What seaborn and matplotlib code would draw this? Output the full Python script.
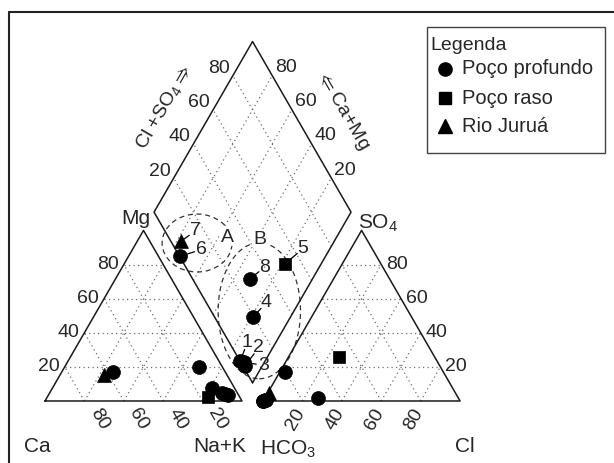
import numpy as np
import pandas as pd
import matplotlib
matplotlib.use("Agg")
import matplotlib.pyplot as plt
import seaborn as sns
from matplotlib.lines import Line2D
from matplotlib.patches import Ellipse, Rectangle

# ---------------- data (percent meq/L) ----------------
amostras = ["1", "2", "3", "4", "5", "6", "7", "8"]
tipo = ["Poço profundo", "Poço profundo", "Poço profundo", "Poço profundo",
        "Poço raso", "Poço profundo", "Rio Juruá", "Poço profundo"]
Ca = [7.8, 5.4, 6.5, 11.4, 16.1, 57.0, 62.5, 11.8]
Mg = [4.7, 3.5, 4.0, 7.6, 2.3, 17.0, 15.2, 20.0]
NaK = [87.5, 91.1, 89.5, 81.0, 81.6, 26.0, 22.3, 68.2]
HCO3 = [100.0, 99.0, 98.5, 80.4, 48.6, 100.0, 94.6, 71.0]
SO4 = [0.0, 0.5, 0.5, 17.0, 25.8, 0.0, 4.7, 2.0]
Cl = [0.0, 0.5, 1.0, 2.6, 25.6, 0.0, 0.7, 27.0]
ticks = [20, 40, 60, 80]
grupos = ["Poço profundo", "Poço raso", "Rio Juruá"]

# ---------------- geometry ----------------
H = np.sqrt(3) / 2
G = 0.107
BX, BY = 1 + G / 2, G * H
PX = 197.0  # pixels per data unit


def cat_xy(ca, mg, nak):
    mg = np.asarray(mg) / 100.0
    nak = np.asarray(nak) / 100.0
    return nak + mg / 2, mg * H


def an_xy(hco3, so4, cl):
    so4 = np.asarray(so4) / 100.0
    cl = np.asarray(cl) / 100.0
    return 1 + G + cl + so4 / 2, so4 * H


def dia_xy(camg, clso4):
    c = np.asarray(camg) / 100.0
    a = np.asarray(clso4) / 100.0
    return BX + 0.5 * (a - c), BY + H * (a + c)


sns.set_style("white")
plt.rcParams["font.family"] = ["Liberation Sans", "DejaVu Sans"]
plt.rcParams["mathtext.default"] = "regular"
FS = 14

fig = plt.figure(figsize=(6.14, 4.63), dpi=100)
ax = fig.add_axes([0, 0, 1, 1])

edge = dict(color="#1a1a1a", lw=1.1, zorder=3)
grid = dict(color="#6f6f6f", lw=0.9, ls=(0, (1, 2.6)), zorder=1)

# triangles outlines
for x0 in [0, 1 + G]:
    ax.plot([x0, x0 + 1, x0 + 0.5, x0], [0, 0, H, 0], **edge)
# diamond outline
ax.plot([BX, BX - 0.5, BX, BX + 0.5, BX], [BY, BY + H, BY + 2 * H, BY + H, BY], **edge)

# grids
for t in ticks:
    v = t / 100.0
    for x0 in [0, 1 + G]:
        ax.plot([x0 + v / 2, x0 + 1 - v / 2], [v * H, v * H], **grid)
        ax.plot([x0 + 1 - v, x0 + (1 - v) / 2], [0, (1 - v) * H], **grid)
        ax.plot([x0 + v, x0 + v + (1 - v) / 2], [0, (1 - v) * H], **grid)
    xa, ya = dia_xy([0, 100], [t, t])
    ax.plot(xa, ya, **grid)
    xc, yc = dia_xy([t, t], [0, 100])
    ax.plot(xc, yc, **grid)


def lab(x, y, s, dx, dy, fs=FS, **kw):
    ax.annotate(s, (x, y), xytext=(dx, dy), textcoords="offset pixels",
                fontsize=fs, **kw)


# tick labels
for t in ticks:
    x, y = cat_xy(100 - t, t, 0)
    lab(x, y, str(t), -5, 0, ha="right", va="center")
    x, y = cat_xy(t, 0, 100 - t)
    lab(x, y, str(t), 15, -18, ha="center", va="center", rotation=-60)
    x, y = an_xy(100 - t, t, 0)
    x = x + (1 - t / 100.0)
    lab(x, y, str(t), 5, 0, ha="left", va="center")
    x, y = an_xy(100 - t, 0, t)
    lab(x, y, str(t), -7, -18, ha="center", va="center", rotation=60)
    x, y = dia_xy(100, t)
    lab(x, y, str(t), -3, 7, ha="right", va="center")
    x, y = dia_xy(t, 100)
    lab(x, y, str(t), 3, 8, ha="left", va="center")

# corner labels
lab(0, 0, "Ca", -8, -46, fs=15, ha="center", va="center")
lab(1, 0, "Na+K", -22, -46, fs=15, ha="center", va="center")
lab(1 + G, 0, "HCO$_3$", 25, -48, fs=15, ha="center", va="center")
lab(2 + G, 0, "Cl", 5, -46, fs=15, ha="center", va="center")
lab(0.5, H, "Mg", -8, 12, fs=15, ha="center", va="center")
lab(1.5 + G, H, "SO$_4$", 16, 7, fs=15, ha="center", va="center")
ax.text(0.602, 1.492, r"Cl +SO$_4\Rightarrow$", fontsize=FS, rotation=60,
        ha="center", va="center", rotation_mode="anchor")
ax.text(1.513, 1.477, r"$\Leftarrow$Ca+Mg", fontsize=FS, rotation=-60,
        ha="center", va="center", rotation_mode="anchor")

# groups A, B
ax.add_patch(Ellipse((0.772, 0.802), 0.355, 0.294, fill=False,
                     ls=(0, (4, 3)), lw=0.9, color="#333333", zorder=2))
ax.add_patch(Ellipse((1.088, 0.458), 0.418, 0.690, fill=False,
                     ls=(0, (4, 3)), lw=0.9, color="#333333", zorder=2))
ax.text((227 - 45) / PX, (401 - 237) / PX, "A", fontsize=FS, ha="center", va="center",
        bbox=dict(fc="white", ec="none", pad=0.5), zorder=4)
ax.text((260 - 45) / PX, (401 - 239) / PX, "B", fontsize=FS, ha="center", va="center",
        bbox=dict(fc="white", ec="none", pad=0.5), zorder=4)

# points
cx, cy = cat_xy(Ca, Mg, NaK)
axx, ayy = an_xy(HCO3, SO4, Cl)
dx_, dy_ = dia_xy(np.add(Ca, Mg), np.add(SO4, Cl))
df = pd.DataFrame({
    "x": np.concatenate([cx, axx, dx_]),
    "y": np.concatenate([cy, ayy, dy_]),
    "tipo": tipo * 3,
})
markers = {"Poço profundo": "o", "Poço raso": "s", "Rio Juruá": "^"}
sizes = {"Poço profundo": 100, "Poço raso": 82, "Rio Juruá": 100}
for g_ in grupos:
    sub = df[df["tipo"] == g_]
    sns.scatterplot(data=sub, x="x", y="y", marker=markers[g_], s=sizes[g_],
                    color="black", edgecolor="black", linewidth=0.5,
                    ax=ax, zorder=5, legend=False)
ax.set_xlim(-45 / PX, 569 / PX)
ax.set_ylim(-62 / PX, 401 / PX)
ax.axis("off")

# sample labels with short leader lines
offs = {"1": (7, 19), "2": (14, 18), "3": (20, -3), "4": (13, 14),
        "5": (18, 15), "6": (22, 7), "7": (14, 10), "8": (15, 12)}
for i, s in enumerate(amostras):
    ox, oy = offs[s]
    L = np.hypot(ox, oy)
    f = max(L - 7.5, 0) / L
    ax.plot([dx_[i], dx_[i] + f * ox / PX], [dy_[i], dy_[i] + f * oy / PX],
            color="black", lw=0.9, zorder=4)
    ax.text(dx_[i] + ox / PX, dy_[i] + oy / PX, s, fontsize=FS,
            ha="center", va="center", zorder=6)


# legend (manual box)
def fx(px):
    return px / 614.0


def fy(py):
    return 1 - py / 463.0


fig.add_artist(Rectangle((fx(427), fy(153)), fx(605) - fx(427), fy(27) - fy(153),
                         transform=fig.transFigure, fill=True, fc="white",
                         ec="#444444", lw=1.0, zorder=10))
fig.text(fx(430), fy(46), "Legenda", fontsize=FS, ha="left", va="center", zorder=11)
leg_rows = [69, 98, 126]
leg_ms = {"Poço profundo": 9.5, "Poço raso": 9.0, "Rio Juruá": 9.5}
for g_, ry in zip(grupos, leg_rows):
    fig.add_artist(Line2D([fx(445)], [fy(ry)], marker=markers[g_], ls="",
                          color="black", markersize=leg_ms[g_],
                          transform=fig.transFigure, zorder=11))
    fig.text(fx(462), fy(ry), g_, fontsize=FS + 0.5, ha="left", va="center", zorder=11)

# outer frame (left and top)
fig.add_artist(Line2D([fx(9), fx(9)], [0, fy(12)], transform=fig.transFigure,
                      color="#222222", lw=1.5))
fig.add_artist(Line2D([fx(9), 1], [fy(12), fy(12)], transform=fig.transFigure,
                      color="#222222", lw=1.5))

fig.savefig("out.png", dpi=100)
